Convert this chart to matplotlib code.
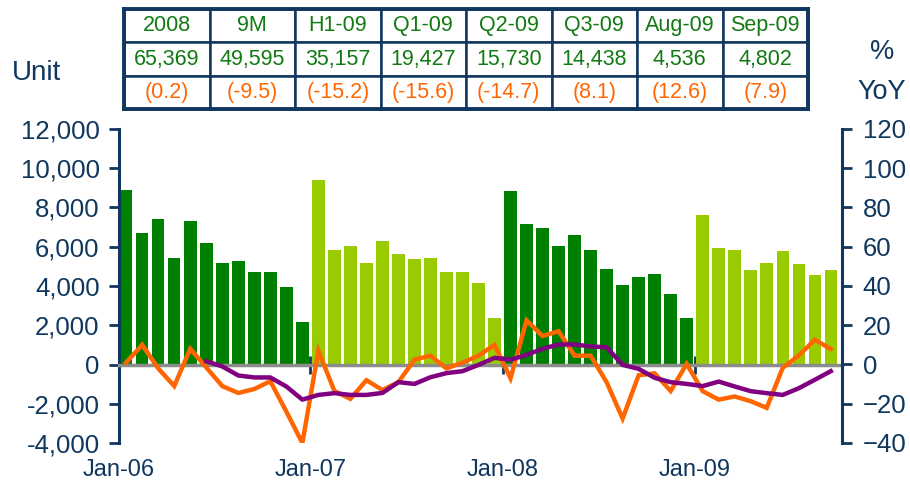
import numpy as np
import matplotlib
matplotlib.use("Agg")
import matplotlib.pyplot as plt
import matplotlib.transforms as mtransforms

plt.rcParams['font.family'] = ['Liberation Sans', 'DejaVu Sans']

# ---------------- data ----------------
years = [2006, 2007, 2008, 2009]
units = [8869, 6700, 7400, 5450, 7300, 6200, 5150, 5250, 4700, 4700, 3950, 2150,
         9400, 5850, 6050, 5150, 6300, 5650, 5400, 5450, 4700, 4700, 4150, 2350,
         8850, 7150, 6950, 6050, 6600, 5850, 4878, 4028, 4450, 4600, 3600, 2350,
         7620, 5960, 5847, 4810, 5160, 5760, 5100, 4536, 4802]
yoy_monthly = [1, 10, -2, -11, 8, -1.5, -11, -14.5, -12.5, -8.5, -24, -40,
               7, -13.5, -17.5, -8, -13, -9, 2.5, 4.5, -2, 1, 4.5, 10,
               -7, 22.5, 14.5, 17, 4.5, 4.5, -9, -27.5, -5.5, -4.5, -13.5, 0.3,
               -13.6, -17.9, -16.3, -18.7, -22.1, -1.7, 4.6, 12.6, 7.9]
nan = float('nan')
yoy_trend = [nan, nan, nan, nan, nan, 1.7, -1, -5.6, -6.6, -6.6, -11.2, -17.9,
             -15.5, -14.6, -15.5, -15.5, -14.5, -9, -9.9, -6.5, -4.4, -3.4, -0.2, 3.4,
             2.4, 4.9, 8, 10.2, 10.2, 9.2, 8.8, -0.2, -2.2, -6.8, -9, -9.9,
             -11, -8.7, -11.2, -13.6, -14.6, -15.5, -12.1, -7.8, -3.4]
x_labels = ['Jan-06', 'Jan-07', 'Jan-08', 'Jan-09']

table_headers = ['2008', '9M', 'H1-09', 'Q1-09', 'Q2-09', 'Q3-09', 'Aug-09', 'Sep-09']
table_units = ['65,369', '49,595', '35,157', '19,427', '15,730', '14,438', '4,536', '4,802']
table_yoy = ['(0.2)', '(-9.5)', '(-15.2)', '(-15.6)', '(-14.7)', '(8.1)', '(12.6)', '(7.9)']

# ---------------- style ----------------
NAVY = '#10375E'
DARK_G = '#008000'
LIGHT_G = '#99CC00'
ORANGE = '#FF6600'
PURPLE = '#800080'
TGREEN = '#127A12'

W, H = 910, 497
fig = plt.figure(figsize=(W / 100, H / 100), dpi=100)
ax = fig.add_axes([119 / W, 1 - 443 / H, (842 - 119) / W, 314 / H])

n = len(units)
xs = np.arange(n)
month_year = [years[i // 12] for i in range(n)]
colors = [DARK_G if y in (2006, 2008) else LIGHT_G for y in month_year]
ax.bar(xs, units, width=0.78, color=colors, zorder=2)

ax.set_xlim(-0.45, n - 0.3)
ax.set_ylim(-4000, 12000)
ax.set_yticks(np.arange(-4000, 12001, 2000))
ax.yaxis.set_major_formatter(matplotlib.ticker.FuncFormatter(lambda v, p: f'{int(v):,}'))
ax.tick_params(axis='y', direction='out', length=7, width=2, color=NAVY,
               labelsize=18.5, labelcolor=NAVY, pad=7)

for s in ['top', 'right']:
    ax.spines[s].set_visible(False)
ax.spines['left'].set_color(NAVY)
ax.spines['left'].set_linewidth(2.2)
ax.spines['bottom'].set_position(('data', 0))
ax.spines['bottom'].set_color('#8C8C8C')
ax.spines['bottom'].set_linewidth(2.5)
ax.spines['bottom'].set_zorder(3)

jan_pos = [i * 12 - 0.5 for i in range(len(x_labels))]
ax.set_xticks(jan_pos[1:])
ax.set_xticklabels([])
ax.tick_params(axis='x', direction='inout', length=13, width=2, color=NAVY)

trans = mtransforms.blended_transform_factory(ax.transData, ax.transAxes)
for p, lab in zip(jan_pos, x_labels):
    ax.text(p, -0.085, lab, transform=trans, ha='center', va='center',
            fontsize=17, color=NAVY)

# right axis
ax2 = ax.twinx()
ax2.set_ylim(-40, 120)
ax2.set_yticks(np.arange(-40, 121, 20))
for s in ['top', 'left', 'bottom']:
    ax2.spines[s].set_visible(False)
ax2.spines['right'].set_color(NAVY)
ax2.spines['right'].set_linewidth(2.2)
ax2.tick_params(axis='y', direction='out', length=7, width=2, color=NAVY,
                labelsize=18.5, labelcolor=NAVY, pad=8)
ax2.plot(xs, yoy_monthly, color=ORANGE, lw=3.2, solid_joinstyle='miter', zorder=3)
ax2.plot(xs, yoy_trend, color=PURPLE, lw=3.2, zorder=4)

# side labels
fig.text(37 / W, 1 - 73 / H, 'Unit', ha='center', va='center', fontsize=20, color=NAVY)
fig.text(882 / W, 1 - 52 / H, '%', ha='center', va='center', fontsize=19.5, color=NAVY)
fig.text(882 / W, 1 - 92 / H, 'YoY', ha='center', va='center', fontsize=19.5, color=NAVY)

# table
tax = fig.add_axes([124 / W, 1 - 109 / H, (808 - 124) / W, 100 / H])
tax.set_xticks([])
tax.set_yticks([])
for s in tax.spines.values():
    s.set_color(NAVY)
    s.set_linewidth(2.8)
    s.set_zorder(5)
tbl = tax.table(cellText=[table_headers, table_units, table_yoy],
                cellLoc='center', bbox=[0, 0, 1, 1])
tbl.auto_set_font_size(False)
for (r, c), cell in tbl.get_celld().items():
    cell.set_edgecolor(NAVY)
    cell.set_linewidth(1.8)
    cell.set_facecolor('white')
    cell.get_text().set_fontsize(15.5)
    cell.get_text().set_color(ORANGE if r == 2 else TGREEN)

fig.savefig('out.png', dpi=100)
